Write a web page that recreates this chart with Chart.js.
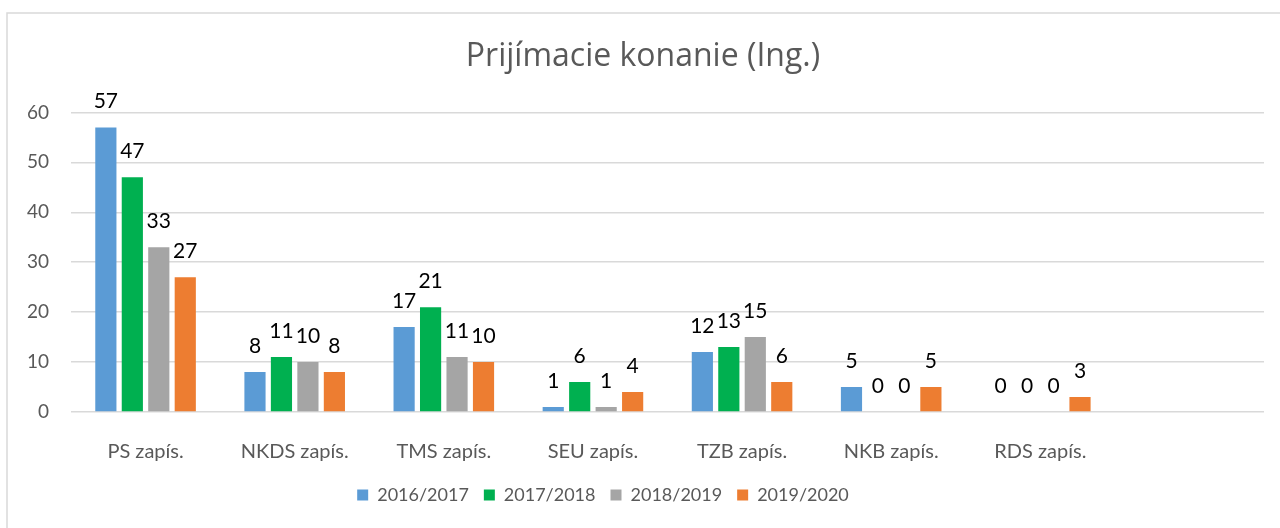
<!DOCTYPE html>
<html>
<head>
<meta charset="utf-8">
<script src="https://cdn.jsdelivr.net/npm/chart.js@4"></script>
<style>
  html, body { margin: 0; padding: 0; background: #fff; }
  #wrap { width: 1280px; height: 528px; position: relative; }
</style>
</head>
<body>
<div id="wrap"><canvas id="chart" width="1280" height="528"></canvas></div>
<script>
const categories = ['PS zapís.', 'NKDS zapís.', 'TMS zapís.', 'SEU zapís.', 'TZB zapís.', 'NKB zapís.', 'RDS zapís.', ''];
const seriesNames = ['2016/2017', '2017/2018', '2018/2019', '2019/2020'];
const values1617 = [57, 8, 17, 1, 12, 5, 0];
const values1718 = [47, 11, 21, 6, 13, 0, 0];
const values1819 = [33, 10, 11, 1, 15, 0, 0];
const values1920 = [27, 8, 10, 4, 6, 5, 3];
const yTicks = [0, 10, 20, 30, 40, 50, 60];

const colors = ['#5b9bd5', '#00b050', '#a5a5a5', '#ed7d31'];
const FONT = 'Lato, "Open Sans", sans-serif';

// outer frame like the Excel chart area
const framePlugin = {
    id: 'frame',
    beforeDraw(chart) {
        const c = chart.ctx;
        c.save();
        c.strokeStyle = '#d9d9d9';
        c.lineWidth = 1.5;
        c.beginPath();
        c.moveTo(7, 540);
        c.lineTo(7, 13);
        c.lineTo(1290, 13);
        c.stroke();
        c.restore();
    }
};

// excel puts the legend a bit left of centre
const legendShift = {
    id: 'legendShift',
    afterLayout(chart) {
        chart.legend.left -= 40;
        chart.legend.right -= 40;
    }
};

// value labels above every bar
const valueLabels = {
    id: 'valueLabels',
    afterDatasetsDraw(chart) {
        const c = chart.ctx;
        c.save();
        c.font = '21px ' + FONT;
        c.fillStyle = '#000';
        c.textAlign = 'center';
        c.textBaseline = 'middle';
        chart.data.datasets.forEach((ds, di) => {
            chart.getDatasetMeta(di).data.forEach((bar, i) => {
                const v = ds.data[i];
                if (v === undefined || v === null) return;
                c.fillText(String(v), bar.x, bar.y - 26);
            });
        });
        c.restore();
    }
};

const seriesValues = [values1617, values1718, values1819, values1920];

new Chart(document.getElementById('chart'), {
    type: 'bar',
    data: {
        labels: categories,
        datasets: seriesNames.map((name, i) => ({
            label: name,
            data: seriesValues[i],
            backgroundColor: colors[i],
            borderWidth: 0,
            categoryPercentage: 0.71,
            barPercentage: 0.8
        }))
    },
    options: {
        responsive: false,
        animation: false,
        layout: { padding: { top: 0, left: 22, right: 16, bottom: 14 } },
        plugins: {
            title: {
                display: true,
                text: 'Prijímacie konanie (Ing.)',
                color: '#595959',
                font: { family: '"Open Sans", sans-serif', size: 32, weight: 'normal' },
                padding: { top: 38, bottom: 36 }
            },
            legend: {
                position: 'bottom',
                labels: {
                    boxWidth: 11,
                    boxHeight: 11,
                    padding: 15,
                    color: '#595959',
                    font: { family: FONT, size: 18 }
                }
            },
            tooltip: { enabled: false }
        },
        scales: {
            x: {
                afterFit(axis) { axis.height = 59; },
                grid: { display: false },
                border: { display: false },
                ticks: { color: '#595959', font: { family: FONT, size: 20 }, padding: 20, maxRotation: 0 }
            },
            y: {
                min: 0,
                max: 60,
                afterBuildTicks(axis) { axis.ticks = yTicks.map(v => ({ value: v })); },
                afterFit(axis) { axis.width = 49; },
                grid: { color: '#d9d9d9', lineWidth: 1.5, drawTicks: false },
                border: { display: false },
                ticks: { color: '#595959', font: { family: FONT, size: 19 }, padding: 22 }
            }
        }
    },
    plugins: [framePlugin, legendShift, valueLabels]
});
</script>
</body>
</html>
